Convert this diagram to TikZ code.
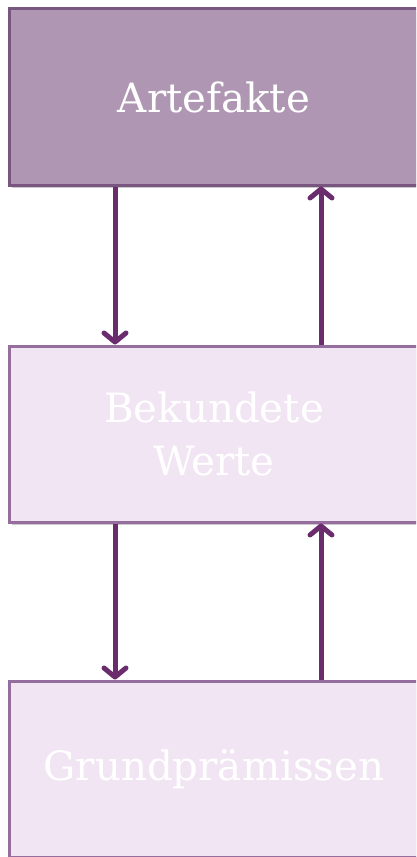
\documentclass[tikz,border=0pt]{standalone}
\usepackage{fontspec}
\setmainfont{DejaVu Serif}
\usetikzlibrary{arrows.meta,shadows}
\definecolor{topfill}{RGB}{175,151,180}
\definecolor{topline}{RGB}{120,86,128}
\definecolor{lowfill}{RGB}{241,229,243}
\definecolor{lowline}{RGB}{150,110,158}
\definecolor{arrowc}{RGB}{106,44,108}
\tikzset{
  box/.style={draw, line width=3bp, minimum width=408bp, minimum height=176bp,
    inner sep=0pt, align=center, text=white, font=\fontsize{40.5}{54}\selectfont,
    drop shadow={shadow xshift=2bp, shadow yshift=-3bp, opacity=0.35, fill=black!60}},
  topbox/.style={box, fill=topfill, draw=topline},
  lowbox/.style={box, fill=lowfill, draw=lowline},
  arr/.style={draw=arrowc, line width=5bp, -{Straight Barb[length=9bp,width=22bp,line cap=round,line join=round]}}
}
\begin{document}
\begin{tikzpicture}[x=1bp,y=-1bp]
\useasboundingbox (0,0) rectangle (416,857);
\begin{scope}
\clip (0,0) rectangle (416,857);
\node[topbox] (art) at (214,97) {Artefakte};
\node[lowbox] (wer) at (214,434) {Bekundete\\Werte};
\node[lowbox] (gru) at (214,769) {Grundprämissen};
\draw[arr] ([xshift=-99bp]art.south) -- ([xshift=-99bp]wer.north);
\draw[arr] ([xshift=107bp]wer.north) -- ([xshift=107bp]art.south);
\draw[arr] ([xshift=-99bp]wer.south) -- ([xshift=-99bp]gru.north);
\draw[arr] ([xshift=107bp]gru.north) -- ([xshift=107bp]wer.south);
\end{scope}
\end{tikzpicture}
\end{document}
